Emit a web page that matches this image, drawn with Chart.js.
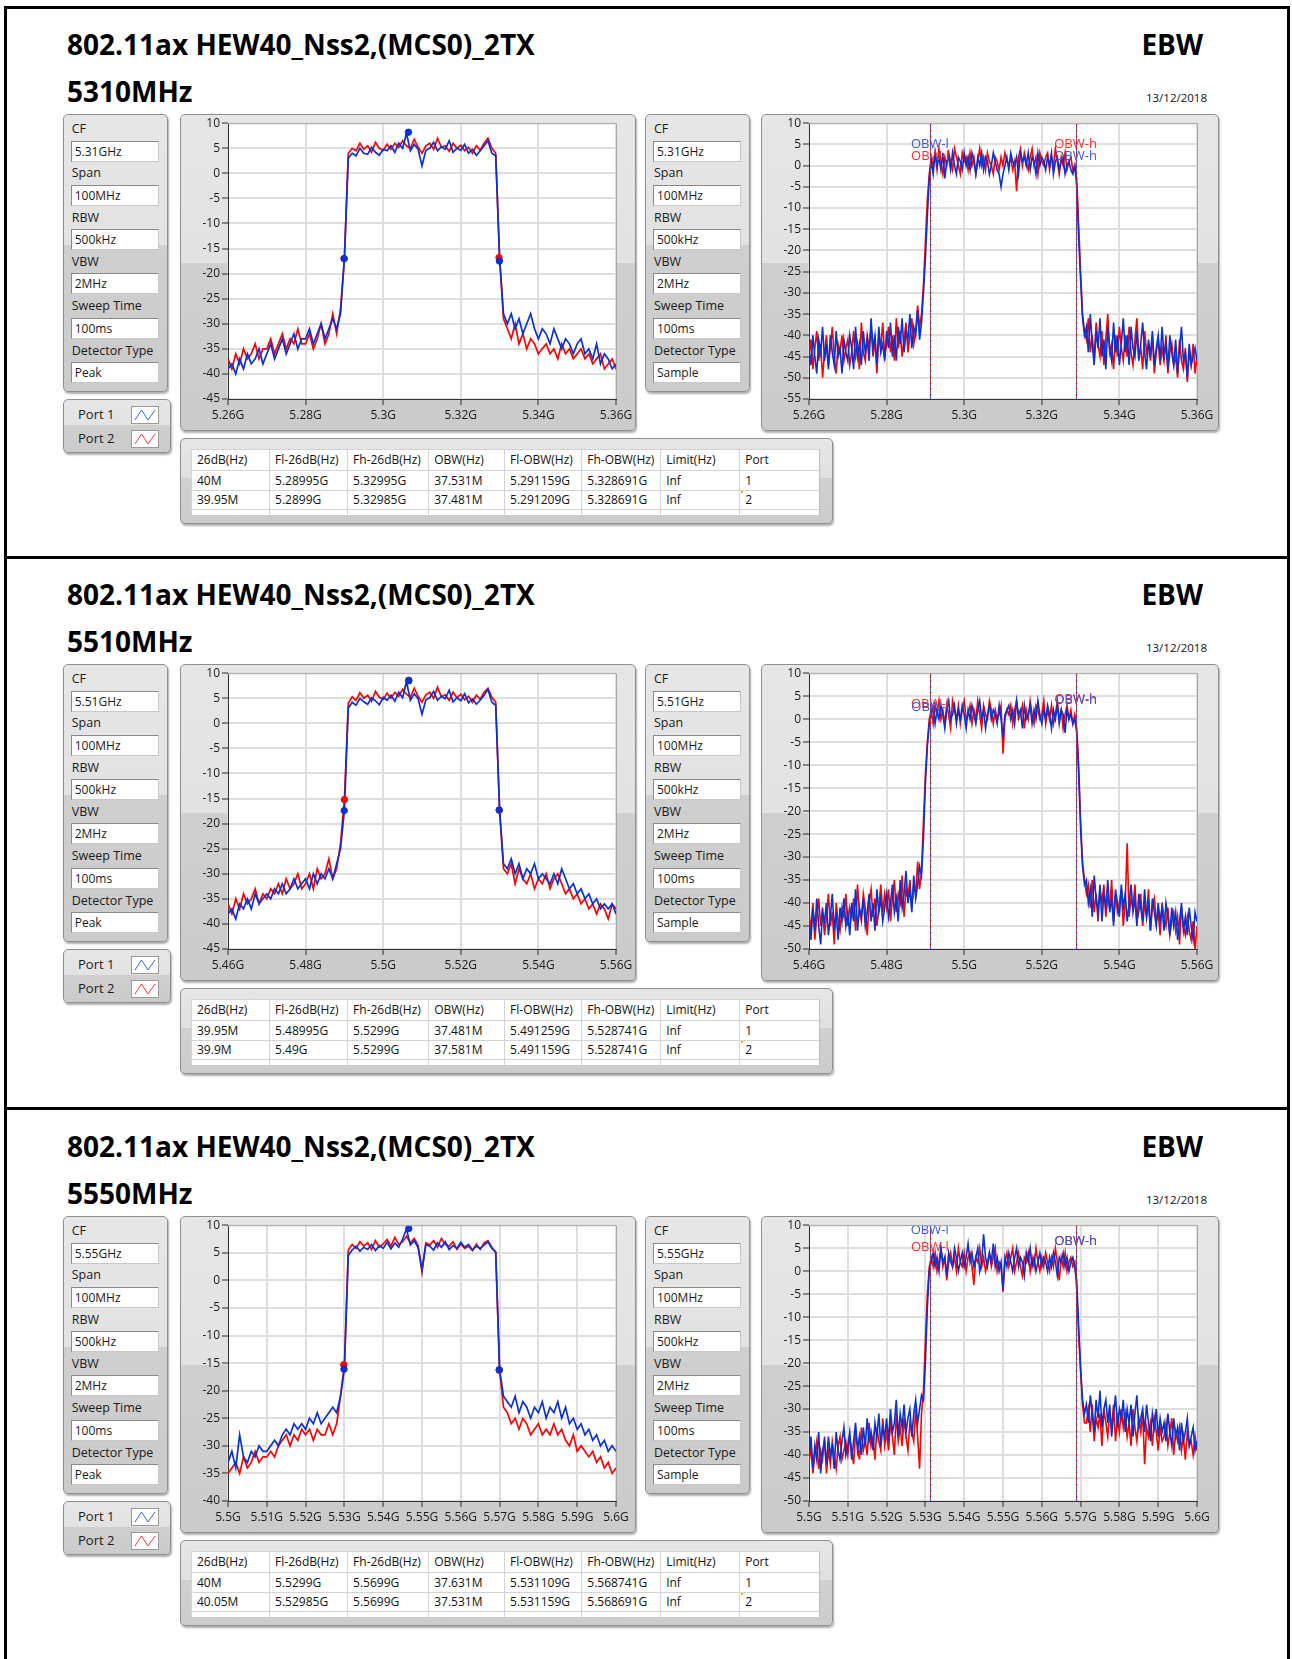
<!DOCTYPE html>
<html><head><meta charset="utf-8">
<script src="https://cdn.jsdelivr.net/npm/chart.js@4.4.0/dist/chart.umd.min.js"></script>
<style>
body{margin:0;background:#fff;width:1292px;height:1659px;overflow:hidden;position:relative;font-family:'Open Sans',sans-serif;color:#1a1a1a}
.abs{position:absolute;white-space:nowrap}
.big{font-weight:700;font-size:28px;line-height:28px;color:#000}
.frame{position:absolute;box-sizing:border-box;border:1px solid #8f8f8f;border-radius:5px;background:linear-gradient(#e6e6e6 0%,#e2e2e2 47%,#cfcfcf 47%,#cbcbcb 100%);box-shadow:1px 2px 2px rgba(0,0,0,.32)}
.inp{position:absolute;box-sizing:border-box;background:#fff;border:1px solid;border-color:#8a8a8a #c8c8c8 #c8c8c8 #8a8a8a;font-size:12px;padding-left:3px;line-height:19px;height:21px;width:88px;white-space:nowrap}
.lab{position:absolute;font-size:12.5px;line-height:16px;white-space:nowrap}
canvas{position:absolute}
table{border-collapse:collapse;table-layout:fixed;background:#fff}
td{border:1px solid #d3d3d3;font-size:12px;padding:0 0 0 5px;white-space:nowrap;overflow:hidden;color:#111}
</style></head>
<body>
<script>
// ---------------- DATA ----------------
const titleText = '802.11ax HEW40_Nss2,(MCS0)_2TX';
const testName = 'EBW';
const reportDate = '13/12/2018';
const freqLabels = ['5310MHz', '5510MHz', '5550MHz'];
const settingLabels = ['CF', 'Span', 'RBW', 'VBW', 'Sweep Time', 'Detector Type'];
const cfValues = ['5.31GHz', '5.51GHz', '5.55GHz'];
const spanValue = '100MHz', rbwValue = '500kHz', vbwValue = '2MHz', sweepValue = '100ms';
const detectorLeft = 'Peak', detectorRight = 'Sample';
const portNames = ['Port 1', 'Port 2'];
const tableHeader = ['26dB(Hz)', 'Fl-26dB(Hz)', 'Fh-26dB(Hz)', 'OBW(Hz)', 'Fl-OBW(Hz)', 'Fh-OBW(Hz)', 'Limit(Hz)', 'Port'];
const p1Table = [['40M', '5.28995G', '5.32995G', '37.531M', '5.291159G', '5.328691G', 'Inf', '1'],
                 ['39.95M', '5.2899G', '5.32985G', '37.481M', '5.291209G', '5.328691G', 'Inf', '2']];
const p2Table = [['39.95M', '5.48995G', '5.5299G', '37.481M', '5.491259G', '5.528741G', 'Inf', '1'],
                 ['39.9M', '5.49G', '5.5299G', '37.581M', '5.491159G', '5.528741G', 'Inf', '2']];
const p3Table = [['40M', '5.5299G', '5.5699G', '37.631M', '5.531109G', '5.568741G', 'Inf', '1'],
                 ['40.05M', '5.52985G', '5.5699G', '37.531M', '5.531159G', '5.568691G', 'Inf', '2']];

const xStarts = [5.26, 5.46, 5.5];
const xEnds = [5.36, 5.56, 5.6];
const xTicks1 = [5.26, 5.28, 5.3, 5.32, 5.34, 5.36];
const xTicks2 = [5.46, 5.48, 5.5, 5.52, 5.54, 5.56];
const xTicks3 = [5.5, 5.51, 5.52, 5.53, 5.54, 5.55, 5.56, 5.57, 5.58, 5.59, 5.6];
const yRangeLeft = [[-45, 10], [-45, 10], [-40, 10]];
const yRangeRight = [[-55, 10], [-50, 10], [-50, 10]];
const peakStepGHz = 0.001;    // peak-detector trace: 101 points per 100 MHz
const sampleStepGHz = 0.0005; // sample-detector trace: 201 points per 100 MHz

// Panel 1 - peak detector (dBm)
const p1LeftBlue = [-39,-38,-40,-37,-39,-36,-38,-37,-35,-38, -36,-34,-37,-35,-33,-36,-34,-32,-35,-33, -33,-31,-34,-32,-30,-33,-31,-29,-31,
 -28,-17,3,
 4,3.5,5,4,3.8,5.2,4.2,3.6,4.8,4.5, 5.5,4.2,6,5,8,4.5,5.8,4.8,1.5,4.6, 5,6.2,4.5,5.3,4.8,6.5,4.2,5,4.6,5.8, 4,4.8,3.6,4.5,5.5,6.5,4,3.5,
 -17,-28,
 -30,-28,-31,-29,-32,-30,-28,-31,-33,-31, -32,-34,-31,-33,-35,-33,-34,-36,-34,-33, -36,-35,-37,-34,-38,-36,-37,-39,-38];
const p1LeftRed = [-37,-39,-36,-38,-35,-37,-36,-34,-37,-35, -35,-33,-36,-34,-32,-35,-33,-34,-31,-34, -34,-32,-35,-33,-30,-34,-32,-28,-32,
 -27,-17,4,
 5,4.5,6,4.8,5.5,4.2,6.2,5,4.6,5.8, 4.8,6,5.2,6.5,5.5,5,6.8,5.2,4,5.5, 6,4.8,7,5.2,5.5,4.4,6,5,5.6,4.5, 5.2,4,5.5,4.6,6,7,5,4,
 -16.8,-29,
 -31,-33,-30,-34,-32,-35,-33,-34,-36,-35, -34,-36,-35,-37,-34,-36,-35,-37,-36,-35, -37,-36,-38,-37,-36,-39,-38,-37,-39];
// Panel 1 - sample detector
const p1RightBlue = [-43,-47,-40,-45,-49,-41,-44,-38,-46,-42,-48,-40,-44,-47,-39,-45,-43,-49,-41,-44,
 -46,-40,-43,-48,-38,-45,-42,-47,-39,-44,-41,-46,-36,-43,-40,-47,-38,-44,-42,-46,
 -39,-43,-37,-45,-40,-46,-38,-42,-36,-44,-39,-41,-35,-43,-38,-40,-34,-41,-37,
 -30,-22,-12,-3,
 1,-2,3,0,2,-1,3,-3,1,2,-1,3,0,-2,2,1,-1,3,0,2,
 -1,3,1,-2,2,0,3,-1,2,1,-2,0,3,1,-1,-2,-5,-2,0,2,
 -1,3,1,0,2,-2,3,1,2,0,3,-1,2,1,-2,3,0,2,1,-1,
 2,0,3,-2,1,2,-1,1,2,-2,0,1,-1,-2,0,
 -5,-17,-27,-36,-40,
 -38,-44,-35,-42,-47,-39,-43,-36,-45,-41,-48,-38,-43,-46,-37,-44,-40,-47,-42,-36,
 -44,-40,-47,-38,-43,-45,-39,-46,-42,-37,-44,-48,-41,-45,-39,-47,-43,-40,-46,-38,
 -45,-42,-48,-40,-44,-47,-41,-49,-43,-38,-46,-44,-50,-42,-47,-45,-43,-46];
const p1RightRed = [-45,-41,-48,-43,-39,-46,-42,-50,-44,-40,-47,-43,-38,-45,-49,-42,-44,-40,-46,-43,
 -41,-47,-44,-39,-45,-42,-48,-37,-44,-46,-40,-43,-38,-45,-41,-49,-40,-43,-37,-45,
 -42,-38,-44,-40,-46,-36,-43,-39,-45,-41,-37,-44,-40,-36,-42,-39,-33,-38,-35,
 -28,-18,-8,-2,
 2,0,3,-1,4,1,-2,2,0,3,1,-1,4,2,0,-2,3,1,2,-1,
 3,0,2,-2,1,4,0,2,-1,3,1,0,-2,2,1,-1,2,0,3,1,
 0,2,-1,1,-6,2,4,0,3,1,-1,2,4,0,2,-2,3,1,0,2,
 3,-1,2,0,4,1,-2,2,0,3,-1,1,2,-1,0,
 -3,-14,-25,-35,-39,
 -41,-36,-44,-40,-46,-37,-42,-45,-39,-47,-41,-35,-44,-42,-48,-40,-45,-38,-43,-46,
 -40,-45,-38,-44,-47,-41,-36,-45,-43,-48,-39,-44,-42,-46,-40,-49,-44,-41,-47,-43,
 -46,-40,-49,-44,-42,-47,-45,-50,-41,-46,-48,-43,-51,-44,-47,-42,-49,-45];
const p1MarkBlue = [[5.28995, -17.0], [5.32995, -17.5], [5.3065, 8.2]];
const p1MarkRed = [[5.2899, -17.0], [5.32985, -16.8]];
const p1Obw = [5.291159, 5.328691, 5.291209, 5.328691];   // port1 low, high, port2 low, high
const p1ObwLabelDb = [5.0, 2.2, 2.2, 5.0];

// Panel 2 - peak detector
const p2LeftBlue = [-38,-37,-39,-36,-37,-35,-37,-34,-36,-35, -34,-35,-33,-34,-32,-34,-33,-31,-33,-32, -31,-33,-30,-32,-30,-31,-29,-31,-28,
 -25,-17.4,3,
 4.2,3.6,5,4.3,3.8,5.1,4.5,3.7,5.2,4.6, 5.6,4.4,6.2,5.1,8.3,4.6,5.9,4.9,1.8,4.7, 5.1,6.4,4.6,5.4,4.9,6.6,4.3,5.1,4.5,5.9, 4.1,4.9,3.8,4.6,5.6,6.8,4.2,3.6,
 -17.3,-28,
 -29,-27,-30,-28,-31,-29,-30,-28,-31,-30, -31,-32,-30,-32,-29,-31,-33,-32,-34,-33, -35,-34,-36,-35,-37,-36,-37,-36,-38];
const p2LeftRed = [-36,-38,-35,-37,-34,-36,-35,-33,-36,-34, -35,-33,-34,-32,-34,-31,-33,-32,-30,-33, -32,-30,-33,-29,-31,-30,-27,-31,-29,
 -24,-15.2,4,
 5.3,4.6,6.1,5,5.6,4.4,6.4,5.2,4.8,6, 5,6.2,5.4,6.8,5.8,5.2,7,5.4,4.2,5.7, 6.2,5,7.2,5.3,5.7,4.6,6.2,5.1,5.8,4.7, 5.4,4.2,5.6,4.8,6.2,7,5.2,4.2,
 -17.3,-29,
 -30,-28,-32,-29,-31,-32,-30,-33,-31,-32, -30,-33,-31,-30,-32,-34,-33,-35,-34,-36, -35,-37,-36,-38,-36,-37,-39,-36,-37];
// Panel 2 - sample detector
const p2RightBlue = [-44,-48,-41,-46,-39,-45,-49,-42,-44,-40,-47,-43,-38,-46,-42,-48,-41,-44,-39,-45,
 -42,-47,-40,-44,-37,-46,-41,-43,-39,-45,-42,-38,-44,-40,-46,-37,-42,-39,-44,-41,
 -38,-43,-40,-36,-42,-39,-44,-35,-41,-38,-33,-40,-37,-42,-34,-39,-36,-32,-34,
 -26,-14,-6,-1,
 1,3,-1,2,0,3,1,-2,2,4,0,1,3,-1,2,0,3,1,-2,2,
 0,3,1,-1,2,4,0,2,-2,1,3,0,2,1,-1,3,0,-4,1,2,
 3,0,2,-1,4,1,2,-2,3,0,1,3,-1,2,0,4,1,-1,2,0,
 3,1,-2,2,0,3,-1,2,1,-3,2,0,1,-1,0,
 -3,-12,-24,-32,-36,
 -35,-40,-37,-43,-34,-39,-42,-36,-44,-38,-41,-35,-42,-39,-45,-37,-40,-43,-36,-41,
 -38,-44,-40,-36,-42,-39,-45,-38,-41,-44,-37,-43,-40,-46,-39,-42,-45,-40,-44,-41,
 -46,-40,-43,-47,-41,-45,-42,-48,-44,-40,-46,-43,-47,-41,-45,-48,-42,-44];
const p2RightRed = [-42,-46,-40,-48,-43,-39,-45,-41,-47,-43,-38,-45,-42,-49,-40,-44,-46,-41,-43,-38,
 -45,-41,-43,-39,-46,-36,-42,-44,-38,-41,-47,-40,-37,-43,-39,-45,-41,-36,-42,-38,
 -41,-37,-44,-39,-35,-42,-38,-40,-34,-43,-37,-39,-35,-41,-36,-38,-31,-37,-33,
 -22,-12,-5,0,
 2,-1,3,1,4,0,2,-1,3,1,-2,4,2,0,3,-1,2,4,0,1,
 3,-1,2,0,4,1,-2,3,1,0,4,2,-1,2,0,1,3,-7.5,0,2,
 1,3,-1,2,4,0,1,3,-2,2,0,4,1,-1,3,2,0,1,4,-1,
 2,0,3,-1,1,4,0,2,-2,1,3,0,2,-1,1,
 -2,-10,-22,-31,-35,
 -38,-36,-41,-35,-42,-38,-44,-37,-40,-36,-43,-39,-41,-35,-44,-38,-42,-40,-37,-45,
 -40,-27,-43,-39,-41,-36,-44,-42,-38,-45,-40,-43,-37,-46,-41,-39,-44,-42,-47,-40,
 -43,-45,-41,-47,-44,-42,-46,-43,-49,-41,-45,-47,-43,-46,-48,-44,-50,-45];
const p2MarkBlue = [[5.48995, -17.4], [5.5299, -17.3], [5.5066, 8.5]];
const p2MarkRed = [[5.49, -15.2], [5.5299, -17.3], [5.5066, 8.6]];
const p2Obw = [5.491259, 5.528741, 5.491159, 5.528741];
const p2ObwLabelDb = [2.6, 4.1, 3.2, 4.3];

// Panel 3 - peak detector
const p3LeftBlue = [-33,-31,-34,-28,-32,-33,-31,-32,-30,-31, -31,-30,-29,-30,-28,-27,-28,-26,-27,-26, -27,-25,-26,-24,-26,-25,-24,-23,-24,
 -21,-16.1,4.5,
 5.5,6.2,5.3,6,5.6,6.5,5.4,6.3,5.8,6.9, 5.7,6.8,6,7.5,9.3,6.4,7.2,5.9,2,6.5, 6.2,5.5,6.8,6,7,5.6,6.3,5.8,6.9,6, 6.5,5.5,6.2,5.8,6.4,7,5.8,5.2,
 -16.2,-21,
 -22,-23,-21,-24,-22,-23,-25,-23,-24,-22, -25,-23,-24,-22,-25,-23,-26,-25,-27,-26, -28,-27,-29,-28,-30,-29,-31,-30,-31];
const p3LeftRed = [-35,-34,-33,-35,-32,-34,-33,-31,-33,-32, -32,-31,-32,-30,-29,-28,-30,-28,-29,-27, -28,-27,-29,-27,-28,-28,-26,-28,-26,
 -21,-15.3,5.5,
 6.5,5.8,7,6.2,6.8,5.6,7.2,6,6.6,7.4, 6.2,7.8,6.5,7,8,6.8,7.6,6.3,1.5,6.8, 6.4,7.2,6,7.6,6.5,6.2,7,5.6,6.6,5.8, 6.2,5.4,6.6,5.6,6.8,7.2,6,5,
 -16.3,-23,
 -24,-26,-25,-27,-25,-26,-28,-27,-26,-28, -27,-28,-26,-28,-27,-29,-30,-28,-31,-30, -31,-32,-31,-33,-32,-34,-33,-35,-34];
// Panel 3 - sample detector
const p3RightBlue = [-40,-36,-43,-38,-41,-35,-44,-39,-37,-42,-36,-40,-38,-43,-35,-39,-41,-37,-34,-40,
 -38,-35,-41,-37,-33,-39,-36,-40,-34,-38,-32,-37,-35,-39,-33,-36,-31,-38,-34,-36,
 -32,-37,-30,-35,-33,-28,-36,-31,-34,-29,-35,-32,-30,-36,-31,-28,-33,-30,-27,
 -28,-20,-8,0,
 2,4,1,3,0,5,2,3,-1,4,2,1,5,3,0,2,4,1,3,6,
 2,4,1,3,5,0,2,8,3,1,4,2,6,1,3,0,2,-4,3,1,
 4,2,0,3,5,1,3,2,-1,4,2,5,1,3,0,2,4,1,3,2,
 0,3,1,4,2,-1,3,2,4,1,3,0,2,3,1,
 -2,-12,-21,-28,-31,
 -29,-33,-27,-31,-35,-28,-32,-26,-34,-30,-28,-33,-29,-36,-31,-27,-34,-30,-32,-28,
 -35,-30,-33,-29,-36,-31,-27,-34,-32,-30,-35,-29,-33,-37,-31,-34,-30,-36,-32,-35,
 -33,-37,-31,-35,-38,-32,-36,-34,-39,-33,-37,-35,-32,-38,-36,-34,-39,-37];
const p3RightRed = [-42,-38,-44,-40,-37,-43,-39,-41,-36,-44,-39,-42,-37,-40,-43,-38,-36,-41,-39,-37,
 -40,-36,-39,-42,-35,-38,-41,-34,-39,-37,-40,-33,-38,-36,-41,-34,-37,-39,-32,-38,
 -35,-39,-33,-36,-40,-31,-37,-34,-38,-32,-36,-39,-33,-35,-37,-30,-36,-43,-31,
 -26,-15,-5,1,
 3,1,4,0,2,5,1,3,-2,2,4,1,3,0,5,2,1,4,0,3,
 4,1,-3,3,2,5,1,3,0,2,4,1,3,5,0,2,1,-4.5,2,4,
 1,3,5,0,2,4,1,-1,3,2,4,0,3,1,5,2,0,3,1,4,
 2,0,3,1,5,2,-2,3,1,4,0,2,3,1,2,
 -4,-14,-22,-29,-33,
 -33,-30,-35,-29,-37,-32,-34,-31,-38,-30,-33,-36,-31,-34,-29,-37,-32,-35,-30,-34,
 -31,-36,-33,-38,-30,-34,-37,-32,-35,-31,-42,-34,-36,-33,-38,-32,-35,-39,-34,-37,
 -36,-33,-38,-35,-32,-40,-35,-37,-34,-39,-36,-41,-35,-38,-37,-40,-36,-39];
const p3MarkBlue = [[5.5299, -16.1], [5.5699, -16.2], [5.5466, 9.4]];
const p3MarkRed = [[5.52985, -15.3], [5.5699, -16.3]];
const p3Obw = [5.531109, 5.568741, 5.531159, 5.568691];
const p3ObwLabelDb = [8.8, 6.4, 5.3, 6.4];

// ---------------- BUILD ----------------
const BLUE = '#0a32d2', RED = '#ff0000';
Chart.defaults.font.family = "'Open Sans', sans-serif";

const panels = [
  {off: 0, freq: freqLabels[0], cf: cfValues[0], x0: xStarts[0], x1: xEnds[0], ticks: xTicks1, yL: yRangeLeft[0], yR: yRangeRight[0],
   lb: p1LeftBlue, lr: p1LeftRed, rb: p1RightBlue, rr: p1RightRed, mb: p1MarkBlue, mr: p1MarkRed, obw: p1Obw, obwY: p1ObwLabelDb, rows: p1Table},
  {off: 550, freq: freqLabels[1], cf: cfValues[1], x0: xStarts[1], x1: xEnds[1], ticks: xTicks2, yL: yRangeLeft[1], yR: yRangeRight[1],
   lb: p2LeftBlue, lr: p2LeftRed, rb: p2RightBlue, rr: p2RightRed, mb: p2MarkBlue, mr: p2MarkRed, obw: p2Obw, obwY: p2ObwLabelDb, rows: p2Table},
  {off: 1102, freq: freqLabels[2], cf: cfValues[2], x0: xStarts[2], x1: xEnds[2], ticks: xTicks3, yL: yRangeLeft[2], yR: yRangeRight[2],
   lb: p3LeftBlue, lr: p3LeftRed, rb: p3RightBlue, rr: p3RightRed, mb: p3MarkBlue, mr: p3MarkRed, obw: p3Obw, obwY: p3ObwLabelDb, rows: p3Table}
];

function div(parent, cls, css, text) {
  const d = document.createElement('div');
  if (cls) d.className = cls;
  d.style.cssText = css || '';
  if (text !== undefined) d.textContent = text;
  parent.appendChild(d);
  return d;
}
function series(start, step, ys) { return ys.map((v, i) => ({x: +(start + i * step).toFixed(6), y: v})); }
function pts(arr) { return arr.map(p => ({x: p[0], y: p[1]})); }

// outer black frame and separators
div(document.body, 'abs', 'left:4px;top:6px;width:1286px;height:1700px;box-sizing:border-box;border:3px solid #000;border-bottom:none');
div(document.body, 'abs', 'left:4px;top:556px;width:1286px;height:3px;background:#000');
div(document.body, 'abs', 'left:4px;top:1107px;width:1286px;height:3px;background:#000');

function settingsBox(top, left, values) {
  const box = div(document.body, 'frame', `left:${left}px;top:${top}px;width:105px;height:278px`);
  settingLabels.forEach((lab, k) => {
    div(box, 'lab', `left:8px;top:${6 + k * 44.3}px`, lab);
    div(box, 'inp', `left:7px;top:${25.5 + k * 44.3}px`, values[k]);
  });
}
function legendBox(top) {
  const box = div(document.body, 'frame', `left:63px;top:${top}px;width:108px;height:54px;background:linear-gradient(#e6e6e6 0%,#e2e2e2 48%,#cfcfcf 48%,#cbcbcb 100%)`);
  const cols = ['#3a63e6', '#ff3a3a'];
  portNames.forEach((n, k) => {
    div(box, 'lab', `left:14px;top:${6 + k * 24.3}px;font-size:13px`, n);
    const ic = div(box, 'abs', `left:66.5px;top:${5.5 + k * 24.3}px;width:28px;height:18px;box-sizing:border-box;background:#fff;border:1px solid #9a9a9a`);
    ic.innerHTML = `<svg width="26" height="16" style="position:absolute;left:0;top:0"><polyline points="3,13 9.5,3 16,13 23,3" fill="none" stroke="${cols[k]}" stroke-width="1"/></svg>`;
  });
}
function tableBox(top, rows) {
  const box = div(document.body, 'frame', `left:179.5px;top:${top}px;width:653px;height:86px;background:linear-gradient(#e6e6e6 0%,#e0e0e0 47%,#d0d0d0 47%,#cccccc 100%)`);
  const wrap = div(box, 'abs', 'left:10.5px;top:9.5px;width:629px;height:66px;overflow:hidden;background:#fff;border-right:1px solid #bdbdbd;box-sizing:border-box');
  const widths = [78.1, 78, 81.1, 75.9, 77.2, 78.9, 79, 80.6];
  const heights = [21, 20, 19.5, 20];
  let h = '<table style="width:629px"><colgroup>' + widths.map(w => `<col style="width:${w}px">`).join('') + '</colgroup>';
  const all = [tableHeader].concat(rows).concat([tableHeader.map(() => '')]);
  all.forEach((r, i) => {
    h += `<tr style="height:${heights[i]}px">` + r.map(c => `<td style="height:${heights[i] - 1}px;line-height:${heights[i] - 1}px">${c}</td>`).join('') + '</tr>';
  });
  h += '</table>';
  wrap.innerHTML = h;
  div(box, 'abs', 'left:560px;top:52px;width:2px;height:2px;background:#f0b400');
}

const plotBg = {
  id: 'plotBg',
  beforeDraw(c) {
    const {ctx, chartArea: a} = c;
    ctx.save(); ctx.fillStyle = '#fff'; ctx.fillRect(a.left, a.top, a.right - a.left, a.bottom - a.top); ctx.restore();
  },
  afterDraw(c) {
    const {ctx, chartArea: a} = c;
    ctx.save(); ctx.strokeStyle = '#a6a6a6'; ctx.lineWidth = 1;
    ctx.beginPath(); ctx.moveTo(a.left, a.top + 0.5); ctx.lineTo(a.right + 0.5, a.top + 0.5); ctx.lineTo(a.right + 0.5, a.bottom); ctx.stroke();
    ctx.restore();
  }
};
function cursorPlugin(obw, obwY) {
  return {
    id: 'cursors',
    afterDatasetsDraw(c) {
      const {ctx, chartArea: a, scales: {x, y}} = c;
      const items = [
        {x: obw[2], y: obwY[2], col: RED, tcol: '#ff2a2a', lab: 'OBW-l', off: 0},
        {x: obw[3], y: obwY[3], col: RED, tcol: '#ff2a2a', lab: 'OBW-h', off: 0},
        {x: obw[0], y: obwY[0], col: '#3050e0', tcol: '#3a55e0', lab: 'OBW-l', off: 3},
        {x: obw[1], y: obwY[1], col: '#3050e0', tcol: '#3a55e0', lab: 'OBW-h', off: 3}
      ];
      ctx.save();
      ctx.beginPath(); ctx.rect(a.left, a.top, a.right - a.left, a.bottom - a.top); ctx.clip();
      items.forEach(it => {
        const px = Math.round(x.getPixelForValue(it.x)) + 0.5;
        ctx.strokeStyle = it.col; ctx.lineWidth = 1; ctx.setLineDash([3, 3]); ctx.lineDashOffset = it.off;
        ctx.beginPath(); ctx.moveTo(px, a.top); ctx.lineTo(px, a.bottom); ctx.stroke();
      });
      ctx.setLineDash([]);
      ctx.font = "13px 'Open Sans'"; ctx.textAlign = 'center'; ctx.textBaseline = 'middle';
      items.forEach(it => { ctx.fillStyle = it.tcol; ctx.fillText(it.lab, x.getPixelForValue(it.x), y.getPixelForValue(it.y)); });
      ctx.restore();
    }
  };
}

function makeChart(left, top, width, yr, p, red, blue, step, mr, mb, lw, extraPlugins) {
  const cv = document.createElement('canvas');
  cv.width = width; cv.height = 317;
  cv.style.left = left + 'px'; cv.style.top = top + 'px';
  document.body.appendChild(cv);
  // lower "order" is drawn on top: blue over red, markers over traces
  const datasets = [
    {data: series(p.x0, step, red), borderColor: RED, borderWidth: lw, pointRadius: 0, order: 3},
    {data: series(p.x0, step, blue), borderColor: BLUE, borderWidth: lw, pointRadius: 0, order: 2}
  ];
  if (mr) datasets.push({data: pts(mr), showLine: false, pointRadius: 3.2, pointBackgroundColor: RED, pointBorderColor: RED, borderColor: RED, order: 1});
  if (mb) datasets.push({data: pts(mb), showLine: false, pointRadius: 3.2, pointBackgroundColor: BLUE, pointBorderColor: BLUE, borderColor: BLUE, order: 0});
  const tickFont = {family: "'Open Sans'", size: 12};
  return new Chart(cv, {
    type: 'line',
    data: {datasets},
    plugins: [plotBg].concat(extraPlugins || []),
    options: {
      responsive: false, animation: false, devicePixelRatio: 1, events: [],
      layout: {padding: {left: 0, top: 9, right: width - 436, bottom: 0}},
      plugins: {legend: {display: false}, tooltip: {enabled: false}},
      elements: {line: {tension: 0}},
      scales: {
        x: {
          type: 'linear', min: p.x0, max: p.x1,
          afterBuildTicks: s => { s.ticks = p.ticks.map(v => ({value: v})); },
          afterFit: s => { s.height = 32; },
          ticks: {autoSkip: false, maxRotation: 0, minRotation: 0, padding: 3, color: '#1a1a1a', font: tickFont,
                  callback: v => (+v.toFixed(3)) + 'G'},
          grid: {color: '#dedede', lineWidth: 2, tickColor: '#2a2a2a', tickLength: 6, tickWidth: 1},
          border: {display: true, color: '#333', width: 1}
        },
        y: {
          min: yr[0], max: yr[1],
          afterFit: s => { s.width = 48; },
          ticks: {stepSize: 5, padding: 2, color: '#1a1a1a', font: tickFont, callback: v => String(v)},
          grid: {color: '#dedede', lineWidth: 2, tickColor: '#2a2a2a', tickLength: 6, tickWidth: 1},
          border: {display: true, color: '#333', width: 1}
        }
      }
    }
  });
}

panels.forEach(p => {
  const o = p.off;
  div(document.body, 'abs big', `left:67px;top:${o + 30}px`, titleText);
  div(document.body, 'abs big', `left:67px;top:${o + 77}px`, p.freq);
  div(document.body, 'abs big', `right:89px;top:${o + 30}px`, testName);
  div(document.body, 'abs', `right:85px;top:${o + 91.5}px;font-size:11.5px;line-height:11.5px;color:#111`, reportDate);

  settingsBox(o + 114, 62.7, [p.cf, spanValue, rbwValue, vbwValue, sweepValue, detectorLeft]);
  settingsBox(o + 114, 645, [p.cf, spanValue, rbwValue, vbwValue, sweepValue, detectorRight]);
  legendBox(o + 399);

  div(document.body, 'frame', `left:180px;top:${o + 114}px;width:456px;height:317px`);
  div(document.body, 'frame', `left:761px;top:${o + 114}px;width:458px;height:317px`);
  makeChart(180, o + 114, 456, p.yL, p, p.lr, p.lb, peakStepGHz, p.mr, p.mb, 1.7);
  makeChart(761, o + 114, 458, p.yR, p, p.rr, p.rb, sampleStepGHz, null, null, 1.6, [cursorPlugin(p.obw, p.obwY)]);

  tableBox(o + 438.3, p.rows);
});
</script>
</body></html>
